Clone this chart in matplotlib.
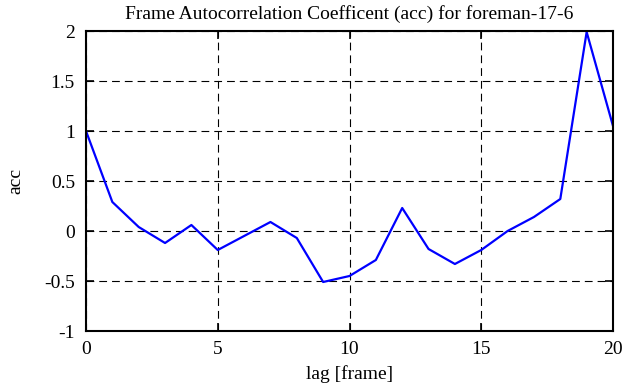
import numpy as np
import matplotlib
matplotlib.use("Agg")
import matplotlib.pyplot as plt

plt.rcParams['font.family'] = ['Liberation Serif', 'DejaVu Serif']

# autocorrelation values
lag = list(range(21))
acc = [1.0, 0.29, 0.04, -0.12, 0.06, -0.19, -0.05, 0.09, -0.07, -0.51, -0.45,
       -0.29, 0.23, -0.18, -0.33, -0.19, 0.0, 0.14, 0.32, 1.99, 1.05]

fig = plt.figure(figsize=(6.35, 3.87), dpi=100)
ax = fig.add_axes([86/635, 56/387, 527/635, 300/387])

ax.plot(lag, acc, color='#0000ff', lw=1.6)

ax.set_xlim(0, 20)
ax.set_ylim(-1, 2)
ax.set_xticks([0, 5, 10, 15, 20])
ax.set_yticks([-1, -0.5, 0, 0.5, 1, 1.5, 2])
ax.set_yticklabels(['-1', '-0.5', '0', '0.5', '1', '1.5', '2'])
ax.grid(True, color='black', linestyle=(0, (7, 4.5)), lw=0.8)
ax.tick_params(direction='in', top=True, right=True, length=5.5, width=1.2,
               labelsize=14)
ax.tick_params(axis='x', pad=7)
ax.tick_params(axis='y', pad=8)
for s in ax.spines.values():
    s.set_linewidth(1.5)

ax.set_title('Frame Autocorrelation Coefficent (acc) for foreman-17-6',
             fontsize=14, pad=9)
ax.set_xlabel('lag [frame]', fontsize=14, labelpad=5)
ax.set_ylabel('acc', fontsize=14, labelpad=14)

fig.savefig('out.png', dpi=100)
